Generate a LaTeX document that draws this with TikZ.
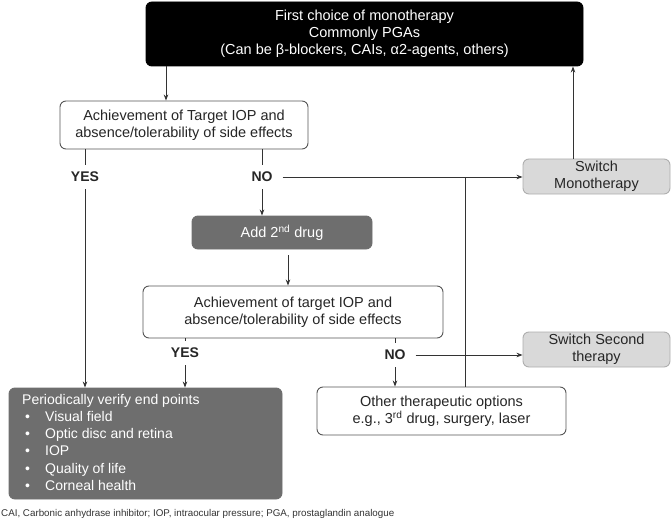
\documentclass[tikz,border=0pt]{standalone}
\usepackage{fontspec}
\setmainfont{Liberation Sans}
\usetikzlibrary{arrows.meta,calc}
\definecolor{linec}{HTML}{333333}
\definecolor{darkfill}{HTML}{6E6E6E}
\definecolor{lightfill}{HTML}{D9D9D9}
\definecolor{borderc}{HTML}{555555}
\begin{document}
\begin{tikzpicture}[x=1pt,y=-1pt,
  box/.style={draw=borderc,line width=0.9pt,rounded corners=6pt,align=center,font=\fontsize{14.5}{17}\selectfont,inner sep=0pt},
  blackbox/.style={box,fill=black,draw=black,text=white},
  darkbox/.style={box,fill=darkfill,draw=darkfill,text=white},
  lightbox/.style={box,fill=lightfill,draw=lightfill!80!black,text=black!85},
  whitebox/.style={box,fill=white,text=black!85},
  lbl/.style={font=\bfseries\fontsize{14}{16}\selectfont,text=black!85,inner xsep=10pt,inner ysep=7pt},
  ln/.style={draw=linec,line width=0.8pt},
  arr/.style={ln,-{Stealth[length=6pt,width=4.5pt]}}]
\useasboundingbox (0,0) rectangle (672,524);
\node[blackbox,minimum width=437pt,minimum height=64pt] (top) at (364.5,34) {First choice of monotherapy\\Commonly PGAs\\(Can be β-blockers, CAIs, α2-agents, others)};
\node[whitebox,minimum width=248pt,minimum height=48pt] (b2) at (184,125) {Achievement of Target IOP and\\absence/tolerability of side effects};
\node[darkbox,minimum width=180pt,minimum height=33pt] (add) at (282,232.5) {Add 2\textsuperscript{nd} drug};
\node[whitebox,minimum width=300pt,minimum height=52pt] (b4) at (293,312) {Achievement of target IOP and\\absence/tolerability of side effects};
\node[lightbox,minimum width=147pt,minimum height=35pt] (sm) at (596.5,176.5) {Switch\\Monotherapy};
\node[lightbox,minimum width=147pt,minimum height=35pt] (ss) at (596.5,349.5) {Switch Second\\therapy};
\node[whitebox,minimum width=249pt,minimum height=48pt] (oth) at (441.5,411) {Other therapeutic options\\e.g., 3\textsuperscript{rd} drug, surgery, laser};
\node[darkbox,minimum width=273pt,minimum height=111pt] (per) at (145.5,443.5) {};
\node[anchor=north west,text=white,font=\fontsize{14}{17.2}\selectfont,align=left,inner sep=0pt] (pertext) at (22,394) {Periodically verify end points\\
\makebox[23pt][l]{\hspace{3pt}•}Visual field\\
\makebox[23pt][l]{\hspace{3pt}•}Optic disc and retina\\
\makebox[23pt][l]{\hspace{3pt}•}IOP\\
\makebox[23pt][l]{\hspace{3pt}•}Quality of life\\
\makebox[23pt][l]{\hspace{3pt}•}Corneal health};
\node[lbl] (yes1) at (85,177) {YES};
\node[lbl] (no1) at (262,177) {NO};
\node[lbl] (yes2) at (185,353) {YES};
\node[lbl] (no2) at (395,355) {NO};
\node[anchor=west,font=\fontsize{9.8}{11}\selectfont,text=black!80,inner sep=0pt] (foot) at (1,514) {CAI, Carbonic anhydrase inhibitor; IOP, intraocular pressure; PGA, prostaglandin analogue};
\coordinate (c1) at (166,0);
\coordinate (c2) at (573,0);
\coordinate (c3) at (288,0);
\coordinate (j) at (465,0);
\draw[arr] (c1 |- top.south) -- (c1 |- b2.north);
\draw[ln] (yes1 |- b2.south) -- (yes1.north);
\draw[arr] (yes1.south) -- (yes1 |- per.north);
\draw[ln] (no1 |- b2.south) -- (no1.north);
\draw[arr] (no1.south) -- (no1 |- add.north);
\draw[arr] (no1.east) -- (no1.east -| sm.west);
\draw[ln] (j |- no1.east) -- (j |- oth.north);
\draw[arr] (c2 |- sm.north) -- (c2 |- top.south);
\draw[arr] (c3 |- add.south) ++(0,6) -- (c3 |- b4.north);
\draw[ln] (yes2 |- b4.south) -- (yes2.north);
\draw[arr] (yes2.south) -- (yes2 |- per.north);
\draw[ln] (no2 |- b4.south) -- (no2.north);
\draw[arr] (no2.south) -- (no2 |- oth.north);
\draw[arr] (no2.east) -- (no2.east -| ss.west);
\end{tikzpicture}
\end{document}
